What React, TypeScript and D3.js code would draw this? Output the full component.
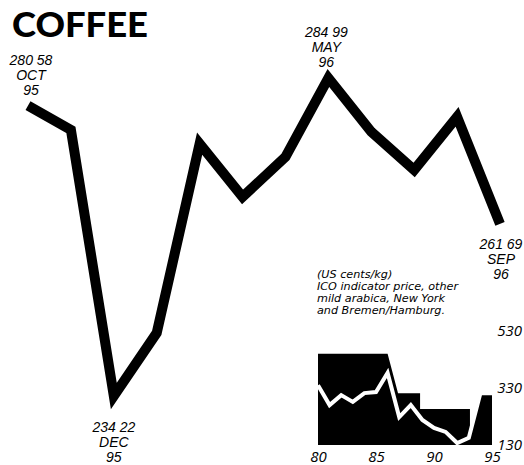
import { useEffect, useRef } from "react"
import * as d3 from "d3"

// Monthly price, Oct 95 - Sep 96 (US cents/kg)
const months = ["OCT 95", "NOV 95", "DEC 95", "JAN 96", "FEB 96", "MAR 96", "APR 96", "MAY 96", "JUN 96", "JUL 96", "AUG 96", "SEP 96"]
const prices = [280.58, 276.7, 234.22, 244.3, 274.5, 266.0, 272.4, 284.99, 276.4, 270.3, 278.8, 261.69]
const labelledMonths = ["OCT 95", "DEC 95", "MAY 96", "SEP 96"]

// Inset: annual ICO indicator price 1980-95
const years = [80, 81, 82, 83, 84, 85, 86, 87, 88, 89, 90, 91, 92, 93, 94, 95]
const icoPrice = [340, 270, 305, 281, 312, 316, 383, 228, 270, 218, 190, 176, 137, 155, 312, 312]
// black band behind the line
const bandYears = [80, 86, 86.9, 88.8, 88.8, 93.1]
const bandTop = [450, 450, 312, 312, 256, 256]
const insetYTicks = [130, 330, 530]
const insetXTicks = [80, 85, 90, 95]

const noteLines = ["(US cents/kg)", "ICO indicator price, other", "mild arabica, New York", "and Bremen/Hamburg."]

const labelFont = "'Liberation Sans', sans-serif"
const axisFont = "'Open Sans', sans-serif"

const CoffeeChart = () => {
  const svgRef = useRef<SVGSVGElement>(null)

  useEffect(() => {
    if (!svgRef.current) return
    const svg = d3.select(svgRef.current)
    svg.selectAll("*").remove()

    // Title
    svg.append("text")
      .attr("x", 12)
      .attr("y", 37)
      .attr("font-family", "Lato, sans-serif")
      .attr("font-weight", 900)
      .attr("font-size", 34)
      .attr("textLength", 136)
      .attr("lengthAdjust", "spacingAndGlyphs")
      .text("COFFEE")

    // ---- main line ----
    const x = d3.scalePoint().domain(months).range([28, 500])
    const y = d3.scaleLinear().domain([234.22, 284.99]).range([396, 78])

    const data = months.map((m, i) => ({ m, v: prices[i] }))
    const line = d3.line<(typeof data)[0]>()
      .x((d) => x(d.m) || 0)
      .y((d) => y(d.v))

    svg.append("path")
      .datum(data)
      .attr("fill", "none")
      .attr("stroke", "#000")
      .attr("stroke-width", 10)
      .attr("stroke-linejoin", "miter")
      .attr("stroke-miterlimit", 10)
      .attr("d", line)

    // point labels (value, month, year)
    const fmt = (v: number) => d3.format(".2f")(v).replace(".", " ")
    labelledMonths.forEach((m) => {
      const i = months.indexOf(m)
      const v = prices[i]
      const [mon, yr] = m.split(" ")
      const lines = [fmt(v), mon, yr]
      const px = x(m) || 0
      const py = y(v)
      let baseY = py - 41
      let dx = 0
      if (m === "OCT 95") dx = 3
      if (m === "MAY 96") dx = -2
      if (m === "DEC 95") baseY = py + 36
      if (m === "SEP 96") { baseY = py + 25; dx = 1 }
      const t = svg.append("text")
        .attr("font-family", labelFont)
        .attr("font-style", "italic")
        .attr("font-size", 14)
        .attr("text-anchor", "middle")
      lines.forEach((s, k) => {
        t.append("tspan")
          .attr("x", px + dx)
          .attr("y", baseY + k * 15)
          .text(s)
      })
    })

    // ---- inset ----
    const ix = d3.scaleLinear().domain([80, 95]).range([318, 492])
    const iy = d3.scaleLinear().domain([130, 530]).range([445, 331])

    const band = bandYears.map((yr, i) => ({ yr, v: bandTop[i] }))
    const area = d3.area<{ yr: number; v: number }>()
      .x((d) => ix(d.yr))
      .y0(iy(130))
      .y1((d) => iy(d.v))

    svg.append("path").datum(band).attr("fill", "#000").attr("d", area)

    const ico = years.map((yr, i) => ({ yr, v: icoPrice[i] }))
    svg.append("path").datum(ico).attr("fill", "#000").attr("d", area)

    const icoLine = d3.line<(typeof ico)[0]>()
      .x((d) => ix(d.yr))
      .y((d) => iy(d.v))
    svg.append("path")
      .datum(ico)
      .attr("fill", "none")
      .attr("stroke", "#fff")
      .attr("stroke-width", 4)
      .attr("stroke-linejoin", "miter")
      .attr("d", icoLine)

    // inset axes
    const xAxis = svg.append("g")
      .attr("transform", `translate(0,${iy(130)})`)
      .call(d3.axisBottom(ix).tickValues(insetXTicks).tickSize(0).tickPadding(6).tickFormat(d3.format("d")))
    xAxis.select(".domain").remove()
    xAxis.selectAll("text")
      .attr("font-family", axisFont)
      .attr("font-style", "italic")
      .attr("font-size", 15)
      .attr("fill", "#000")

    const yAxis = svg.append("g")
      .attr("transform", `translate(${ix(95)},0)`)
      .call(d3.axisRight(iy).tickValues(insetYTicks).tickSize(0).tickFormat(d3.format("d")))
    yAxis.select(".domain").remove()
    yAxis.selectAll("text")
      .attr("x", 30)
      .attr("text-anchor", "end")
      .attr("font-family", axisFont)
      .attr("font-style", "italic")
      .attr("font-size", 15)
      .attr("fill", "#000")

    // note
    const note = svg.append("text")
      .attr("font-family", "'DejaVu Sans', sans-serif")
      .attr("font-style", "italic")
      .attr("font-size", 11.2)
    noteLines.forEach((s, k) => {
      note.append("tspan").attr("x", 317).attr("y", 278 + k * 12).text(s)
    })
  }, [])

  return (
    <svg
      ref={svgRef}
      width={524}
      height={465}
      style={{ position: "absolute", left: 0, top: 0, background: "#fff" }}
    ></svg>
  )
}

export default function App() {
  return <CoffeeChart />
}
